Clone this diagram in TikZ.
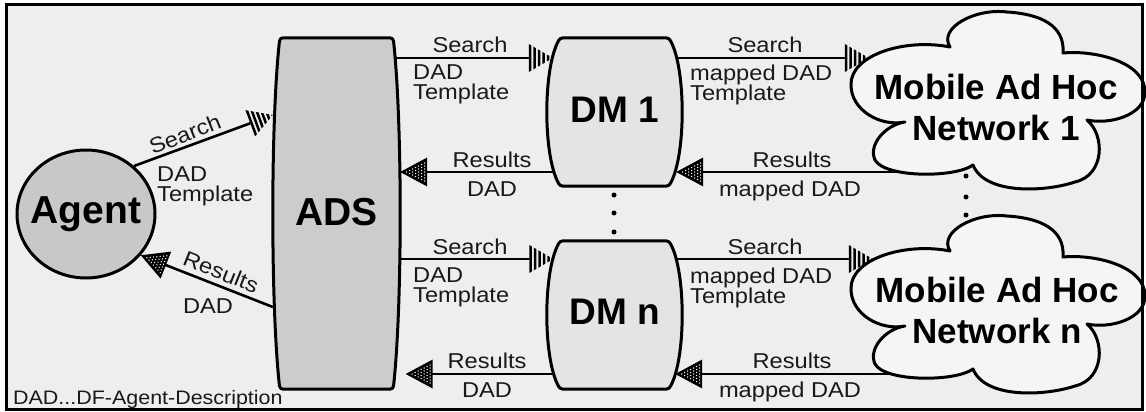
\documentclass[tikz,border=0pt]{standalone}
\usepackage{fontspec}
\setmainfont{Liberation Sans}
\newfontfamily\lblfamily[FakeStretch=1.1]{Liberation Sans}
\usetikzlibrary{shapes.geometric,calc}
\definecolor{bgc}{HTML}{EEEEEE}
\definecolor{agentfill}{HTML}{C8C8C8}
\definecolor{adsfill}{HTML}{CCCCCC}
\definecolor{dmfill}{HTML}{E4E4E4}
\definecolor{cloudfill}{HTML}{F5F5F5}
\pgfdeclarelayer{back}
\pgfdeclarelayer{lines}
\pgfsetlayers{back,lines,main}

\newcommand\mystripe[4]{%
  \pgfpathmoveto{\pgfqpoint{#1pt}{#2pt}}%
  \pgfpathlineto{\pgfqpoint{#3pt}{#4pt}}%
  \pgfpathlineto{\pgfqpoint{#3pt}{-#4pt}}%
  \pgfpathlineto{\pgfqpoint{#1pt}{-#2pt}}%
  \pgfpathclose}

\pgfdeclarearrow{
  name=StripeTip,
  setup code={
    \pgfarrowssettipend{0pt}
    \pgfarrowssetlineend{-22pt}
    \pgfarrowssetbackend{-24pt}
    \pgfarrowsupperhullpoint{-24pt}{14pt}
    \pgfarrowsupperhullpoint{0pt}{0pt}
  },
  drawing code={
    \pgfsetfillcolor{bgc}
    \pgfpathmoveto{\pgfqpoint{0pt}{0pt}}%
    \pgfpathlineto{\pgfqpoint{-24pt}{14pt}}%
    \pgfpathlineto{\pgfqpoint{-24pt}{-14pt}}%
    \pgfpathclose
    \pgfusepathqfill
    \pgfsetfillcolor{black}
    \mystripe{-24}{14}{-21.5}{12.54}
    \mystripe{-19.5}{11.375}{-17}{9.917}
    \mystripe{-15}{8.75}{-12.5}{7.29}
    \mystripe{-10.5}{6.125}{-8}{4.667}
    \mystripe{-6}{3.5}{-3.5}{2.04}
    \mystripe{-1.5}{0.875}{0}{0}
    \pgfusepathqfill
  }
}

\pgfdeclarearrow{
  name=DotTip,
  setup code={
    \pgfarrowssettipend{0pt}
    \pgfarrowssetlineend{-20pt}
    \pgfarrowssetbackend{-27pt}
    \pgfarrowsupperhullpoint{-27pt}{14.5pt}
    \pgfarrowsupperhullpoint{0pt}{0pt}
  },
  drawing code={
    \pgfsetfillcolor{black}
    \pgfpathmoveto{\pgfqpoint{0pt}{0pt}}%
    \pgfpathlineto{\pgfqpoint{-27pt}{14.5pt}}%
    \pgfpathlineto{\pgfqpoint{-27pt}{-14.5pt}}%
    \pgfpathclose
    \pgfusepathqfill
    \pgfsetfillcolor{white}
    \foreach \xx/\off in {-24.5/0,-21.5/1.5,-18.5/0,-15.5/1.5,-12.5/0,-9.5/1.5,-6.5/0}{%
      \pgfmathsetmacro\hh{14.5*(-\xx)/27-2}%
      \foreach \yy in {-12,-9,...,12}{%
        \pgfmathsetmacro\yv{\yy+\off}%
        \pgfmathparse{abs(\yv)<\hh}%
        \ifdim\pgfmathresult pt>0.5pt
          \pgfpathcircle{\pgfqpoint{\xx pt}{\yv pt}}{0.75pt}%
          \pgfusepathqfill
        \fi
      }%
    }%
  }
}

% barrel outline of a node: #1 node, #2 bulge, #3 corner size
\newcommand\barrelpath[3]{%
  let \p1=(#1.north west), \p2=(#1.south east), \n1={#2}, \n2={(\y1-\y2)/4},
      \n3={#3}, \n4={#3*#2*16/(3*(\y1-\y2))} in
  (\x1+\n1+\n3,\y1) -- (\x2-\n1-\n3,\y1)
  .. controls (\x2-\n1,\y1) .. (\x2-\n1+\n4,\y1-\n3)
  .. controls (\x2+\n1/3-\n4/3,\y1-\n2) and (\x2+\n1/3-\n4/3,\y2+\n2) .. (\x2-\n1+\n4,\y2+\n3)
  .. controls (\x2-\n1,\y2) .. (\x2-\n1-\n3,\y2)
  -- (\x1+\n1+\n3,\y2)
  .. controls (\x1+\n1,\y2) .. (\x1+\n1-\n4,\y2+\n3)
  .. controls (\x1-\n1/3+\n4/3,\y2+\n2) and (\x1-\n1/3+\n4/3,\y1-\n2) .. (\x1+\n1-\n4,\y1-\n3)
  .. controls (\x1+\n1,\y1) .. (\x1+\n1+\n3,\y1) -- cycle}

% cloud outline relative to the cloud centre
\newcommand\cloudpath{%
  (-95,22) .. controls (-120,27) and (-149,10) .. (-149,-15)
  .. controls (-150,-45) and (-95,-62) .. (-50,-53)
  .. controls (-62,-72) and (-25,-92) .. (7,-88)
  .. controls (40,-86) and (65,-75) .. (63,-47)
  .. controls (95,-50) and (145,-38) .. (145,-8)
  .. controls (145,15) and (110,25) .. (87,20)
  .. controls (105,35) and (105,75) .. (75,82)
  .. controls (45,92) and (-15,95) .. (-27,65)
  .. controls (-45,78) and (-115,78) .. (-125,60)
  .. controls (-132,45) and (-115,25) .. (-95,22) -- cycle}

\begin{document}
\begin{tikzpicture}[x=1pt,y=-1pt,
  lbl/.style={font={\lblfamily\fontsize{21.5}{20}\selectfont\lineskiplimit=-50pt}, inner sep=0pt, text=black!90},
  foot/.style={font={\lblfamily\fontsize{19.5}{20}\selectfont}, inner sep=0pt, text=black!90},
  bigfont/.style={font={\fontsize{39}{39}\selectfont\bfseries}},
  dmfont/.style={font={\fontsize{37}{37}\selectfont\bfseries}},
  cloudtext/.style={font={\fontsize{35}{41}\selectfont\bfseries}, align=center, inner sep=0pt},
  shapeline/.style={draw=black, line width=3pt, line join=round},
  box/.style={rectangle, draw=none, inner sep=0pt},
  searcharrow/.style={line width=2.6pt, -StripeTip},
  resarrow/.style={line width=2.6pt, -DotTip},
  dot/.style={fill=black}
]
\useasboundingbox (0,0) rectangle (1146,412);
\begin{pgfonlayer}{back}
\fill[white] (0,0) rectangle (1146,412);
\fill[bgc] (6,5) rectangle (1142,409);
\end{pgfonlayer}

% row coordinates
\coordinate (aS) at (0,115);
\coordinate (aR) at (0,307);
\coordinate (r1s) at (0,58);
\coordinate (r1r) at (0,172);
\coordinate (rns) at (0,259);
\coordinate (rnr) at (0,374);

% nodes
\node[ellipse, shapeline, fill=agentfill, minimum width=138pt, minimum height=128pt, inner sep=0pt,
  label={[bigfont]center:Agent}] (Agent) at (86,214) {};
\node[box, minimum width=127pt, minimum height=351pt] (ADS) at (336.5,213.5) {};
\node[box, minimum width=135pt, minimum height=148pt] (DM1) at (614.5,112) {};
\node[box, minimum width=135pt, minimum height=148pt] (DMn) at (614.5,315) {};
\node[box, minimum width=292pt, minimum height=176pt] (Cloud1) at (1000,100) {};
\node[box, minimum width=292pt, minimum height=176pt] (Cloudn) at (1000,304) {};

\draw[shapeline, fill=adsfill] \barrelpath{ADS}{7}{7};
\draw[shapeline, fill=dmfill] \barrelpath{DM1}{13}{7};
\draw[shapeline, fill=dmfill] \barrelpath{DMn}{13}{7};
\draw[shapeline, fill=cloudfill, shift={(Cloud1.center)}] \cloudpath;
\draw[shapeline, fill=cloudfill, shift={(Cloudn.center)}] \cloudpath;

\node[bigfont] at ([yshift=1.5pt]ADS.center) {ADS};
\node[dmfont] at ([yshift=2pt]DM1.center) {DM 1};
\node[dmfont] at ([yshift=3pt]DMn.center) {DM n};
\node[cloudtext] at ([xshift=-4pt,yshift=-7pt]Cloud1.center) {Mobile Ad Hoc\\Network 1};
\node[cloudtext] at ([xshift=-3pt,yshift=-6pt]Cloudn.center) {Mobile Ad Hoc\\Network n};

% connectors
\begin{pgfonlayer}{lines}
\draw[searcharrow] (Agent.45) -- (ADS.west |- aS);
\draw[resarrow] (ADS.west |- aR) -- (Agent.-37);
\draw[searcharrow, shorten >=-6pt] (ADS.center |- r1s) -- (DM1.west |- r1s);
\draw[resarrow] (DM1.center |- r1r) -- (ADS.east |- r1r);
\draw[searcharrow, shorten >=-6.5pt] (ADS.center |- rns) -- (DMn.west |- rns);
\draw[resarrow, shorten >=5.5pt] (DMn.center |- rnr) -- (ADS.east |- rnr);
\draw[searcharrow, shorten >=-15pt] (DM1.center |- r1s) -- (Cloud1.west |- r1s);
\draw[resarrow, shorten <=-45pt, shorten >=-6pt] (Cloud1.west |- r1r) -- (DM1.east |- r1r);
\draw[searcharrow, shorten >=-19pt] (DMn.center |- rns) -- (Cloudn.west |- rns);
\draw[resarrow, shorten <=-45pt, shorten >=-7pt] (Cloudn.west |- rnr) -- (DMn.east |- rnr);
\end{pgfonlayer}

% dots
\foreach \yy in {195,213,232} \fill[dot] (614,\yy) circle (2.5pt);
\foreach \yy in {176,197,215} \fill[dot] (966,\yy) circle (2.5pt);

% labels
\node[lbl, rotate=21.4] at (185,134) {Search};
\node[lbl, align=left, anchor=north west] at (157,166.5) {DAD\\Template};
\node[lbl, rotate=-21.8] at (221,272) {Results};
\node[lbl] at (208,306) {DAD};

\node[lbl, anchor=base] at (470,53) {Search};
\node[lbl, align=left, anchor=north west] at (413,64.5) {DAD\\Template};
\node[lbl, anchor=base] at (492,167) {Results};
\node[lbl, anchor=base] at (492,196) {DAD};
\node[lbl, anchor=base] at (765,53) {Search};
\node[lbl, align=left, anchor=north west] at (690,64.5) {mapped DAD\\Template};
\node[lbl, anchor=base] at (792,167) {Results};
\node[lbl, anchor=base] at (790,196) {mapped DAD};

\node[lbl, anchor=base] at (470,254) {Search};
\node[lbl, align=left, anchor=north west] at (413,267.5) {DAD\\Template};
\node[lbl, anchor=base] at (487,368) {Results};
\node[lbl, anchor=base] at (487,397) {DAD};
\node[lbl, anchor=base] at (765,254) {Search};
\node[lbl, align=left, anchor=north west] at (690,267.5) {mapped DAD\\Template};
\node[lbl, anchor=base] at (792,368) {Results};
\node[lbl, anchor=base] at (790,397) {mapped DAD};

\node[foot, anchor=base west] at (13,404) {DAD...DF-Agent-Description};

\draw[line width=3pt] (6,5) rectangle (1142,409);
\end{tikzpicture}
\end{document}
